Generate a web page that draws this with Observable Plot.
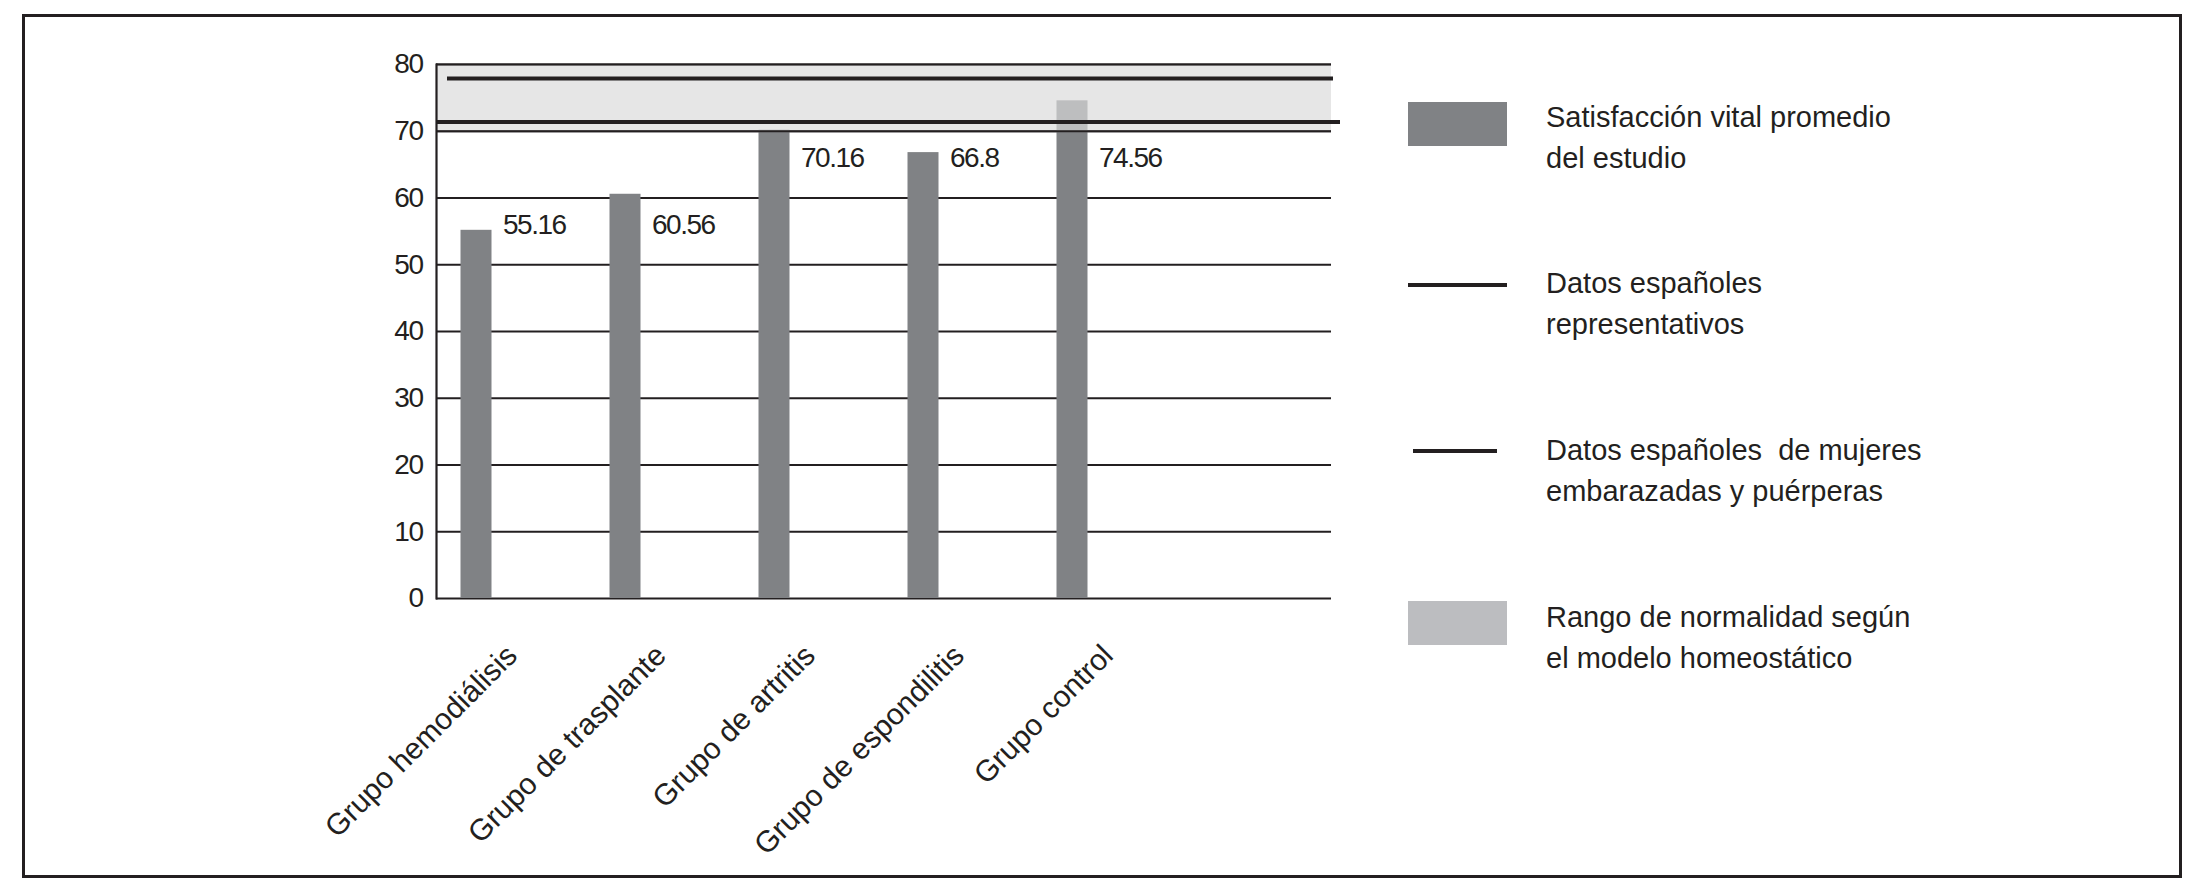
<!DOCTYPE html>
<html>
<head>
<meta charset="utf-8">
<script src="https://cdn.jsdelivr.net/npm/d3@7"></script>
<script src="https://cdn.jsdelivr.net/npm/@observablehq/plot@0.6"></script>
<style>
  body { margin: 0; background: #fff; }
  #wrap { position: relative; width: 2204px; height: 891px; overflow: hidden; background: #fff;
          font-family: "Liberation Sans", Arial, Helvetica, sans-serif; color: #231f20; }
  #border { position: absolute; left: 22px; top: 14px; width: 2160px; height: 864px;
            border: 3px solid #231f20; box-sizing: border-box; }
  #chart { position: absolute; left: 0; top: 0; }
  #chart svg g[aria-label="y-axis tick label"] text,
  #chart svg g[aria-label="text"] text { letter-spacing: -1.5px; }
  .sw { position: absolute; }
  .lt { position: absolute; left: 1546px; font-size: 29px; line-height: 41px; white-space: pre; }
</style>
</head>
<body>
<div id="wrap">
  <div id="border"></div>
  <div id="chart"></div>
  <div id="legend"></div>
</div>
<script>
// ---- data ----
const groups = ["Grupo hemodiálisis", "Grupo de trasplante", "Grupo de artritis", "Grupo de espondilitis", "Grupo control"];
const satisfaction = [55.16, 60.56, 70.16, 66.8, 74.56];
const spanishRepresentative = 77.9;
const spanishPregnant = 71.4;
const normalRange = [70, 80];
const yTicks = [0, 10, 20, 30, 40, 50, 60, 70, 80];
const legendLabels = [
  "Satisfacción vital promedio\ndel estudio",
  "Datos españoles\nrepresentativos",
  "Datos españoles  de mujeres\nembarazadas y puérperas",
  "Rango de normalidad según\nel modelo homeostático"
];

// ---- derived table ----
const rows = groups.map((g, i) => ({group: g, value: satisfaction[i]}));
const band = [{lo: normalRange[0], hi: normalRange[1]}];

const sans = "'Liberation Sans', Arial, Helvetica, sans-serif";
const ink = "#231f20";
const barGrey = "#808285";

// value-label vertical placement (as in the original figure)
const labelLevel = (d, i) => (i < 2 ? 56 : 66);

const chart = Plot.plot({
  width: 2204,
  height: 891,
  marginLeft: 436,
  marginRight: 873,
  marginTop: 64,
  marginBottom: 293,
  style: {fontFamily: sans, fontSize: "28px", color: ink, background: "transparent"},
  x: {domain: [...groups, ""], padding: 0, label: null},
  y: {domain: [0, 80], label: null},
  marks: [
    Plot.ruleY(yTicks, {stroke: ink, strokeWidth: 2.2}),
    Plot.barY(rows, {x: "group", y: "value", fill: barGrey, insetLeft: 23.5, insetRight: 94.5}),
    Plot.rect(band, {y1: "lo", y2: "hi", fill: "#dadada", fillOpacity: 0.68}),
    Plot.ruleY(normalRange, {stroke: ink, strokeWidth: 2.2}),
    Plot.ruleY([spanishRepresentative], {stroke: ink, strokeWidth: 4, insetLeft: 11, insetRight: -2}),
    Plot.ruleY([spanishPregnant], {stroke: ink, strokeWidth: 4, insetRight: -9}),
    Plot.frame({anchor: "left", stroke: ink, strokeWidth: 2.2}),
    Plot.text(rows, {x: "group", y: labelLevel, text: d => String(d.value), textAnchor: "start", dx: -9,
                     fill: ink, fontFamily: sans, fontSize: 28}),
    Plot.axisY(yTicks, {tickSize: 0, tickPadding: 14, fontFamily: sans, fontSize: 28, fill: ink, label: null}),
    Plot.axisX({tickSize: 0, tickPadding: 52, tickRotate: -45, fontFamily: sans,
                fontSize: 30, fill: ink, label: null})
  ]
});
document.getElementById("chart").appendChild(chart);

// ---- legend (HTML, right side) ----
const legend = document.getElementById("legend");
const items = [
  {kind: "box", color: barGrey, x: 1408, y: 102, w: 99, h: 44, base: 127},
  {kind: "line", color: ink, x: 1408, y: 283, w: 99, h: 4, base: 293},
  {kind: "line", color: ink, x: 1413, y: 449, w: 84, h: 4, base: 460},
  {kind: "box", color: "#bcbdc0", x: 1408, y: 601, w: 99, h: 44, base: 627}
];
items.forEach((it, i) => {
  const s = document.createElement("div");
  s.className = "sw";
  Object.assign(s.style, {left: it.x + "px", top: it.y + "px", width: it.w + "px", height: it.h + "px", background: it.color});
  legend.appendChild(s);
  const t = document.createElement("div");
  t.className = "lt";
  t.style.top = (it.base - 30) + "px";
  t.textContent = legendLabels[i];
  legend.appendChild(t);
});
</script>
</body>
</html>
